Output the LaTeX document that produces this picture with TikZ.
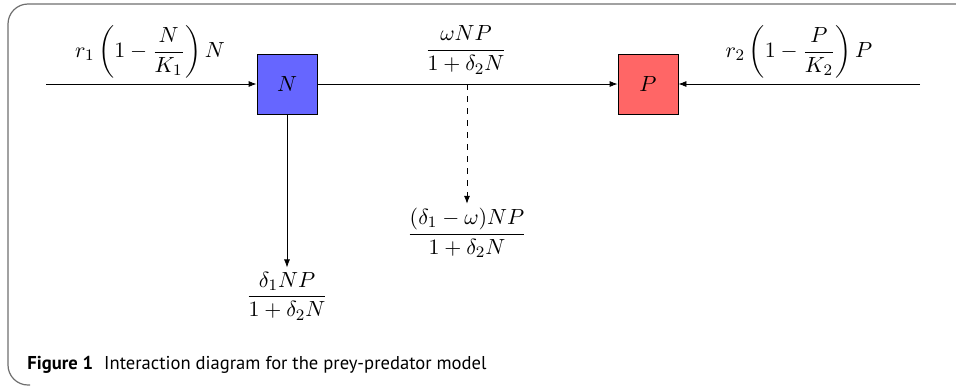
\documentclass[tikz,border=0pt]{standalone}
\usepackage{amsmath,tikz}
\usepackage{fontspec}
\newfontfamily\capfont{PT Sans}
\usetikzlibrary{arrows.meta,positioning,calc}
\definecolor{prey}{HTML}{6666FF}
\definecolor{pred}{HTML}{FF6666}
\definecolor{framegray}{HTML}{6E6E6E}

\begin{document}
\begin{tikzpicture}[x=0.5pt,y=-0.5pt,
  every node/.style={font=\fontsize{10.95pt}{13pt}\selectfont},
  pop/.style={draw=black,minimum size=30pt,inner sep=0pt},
  flow/.style={-{Latex[length=4pt,width=3pt]}},
  rate/.style={inner sep=2pt}]
\useasboundingbox (0,0) rectangle (956,386);
\clip (0,0) rectangle (956,386);
% figure frame
\draw[framegray,line width=0.6pt,rounded corners=10pt] (970,4) -- (8,4) -- (8,385) -- (30,385);
% populations
\node[pop,fill=prey] (N) at (287,84) {$N$};
\node[pop,fill=pred] (P) at (648,84) {$P$};
\coordinate (inN) at (46,84);
\coordinate (inP) at (920,84);
\coordinate (split) at (467,84);
% rates
\node[rate] (gN) at (150,52) {$\displaystyle r_1\left(1-\frac{N}{K_1}\right)N$};
\node[rate] (pr) at (466,50) {$\displaystyle\frac{\omega NP}{1+\delta_2 N}$};
\node[rate] (gP) at (799,52) {$\displaystyle r_2\left(1-\frac{P}{K_2}\right)P$};
\node[rate] (lossP) at (467,233) {$\displaystyle\frac{(\delta_1-\omega)NP}{1+\delta_2 N}$};
\node[rate] (lossN) at (287,296) {$\displaystyle\frac{\delta_1 NP}{1+\delta_2 N}$};
% flows
\draw[flow] (inN) -- (N);
\draw[flow] (N) -- (P);
\draw[flow] (inP) -- (P);
\draw[flow] (N) -- (lossN);
\draw[flow,dashed] (split) -- (lossP);
% caption
\node[anchor=base west,inner sep=0pt] (cap) at (27,369) {\capfont\fontsize{9.3pt}{11pt}\selectfont\textbf{Figure 1}\hspace{0.6em}Interaction diagram for the prey-predator model};
\end{tikzpicture}
\end{document}
